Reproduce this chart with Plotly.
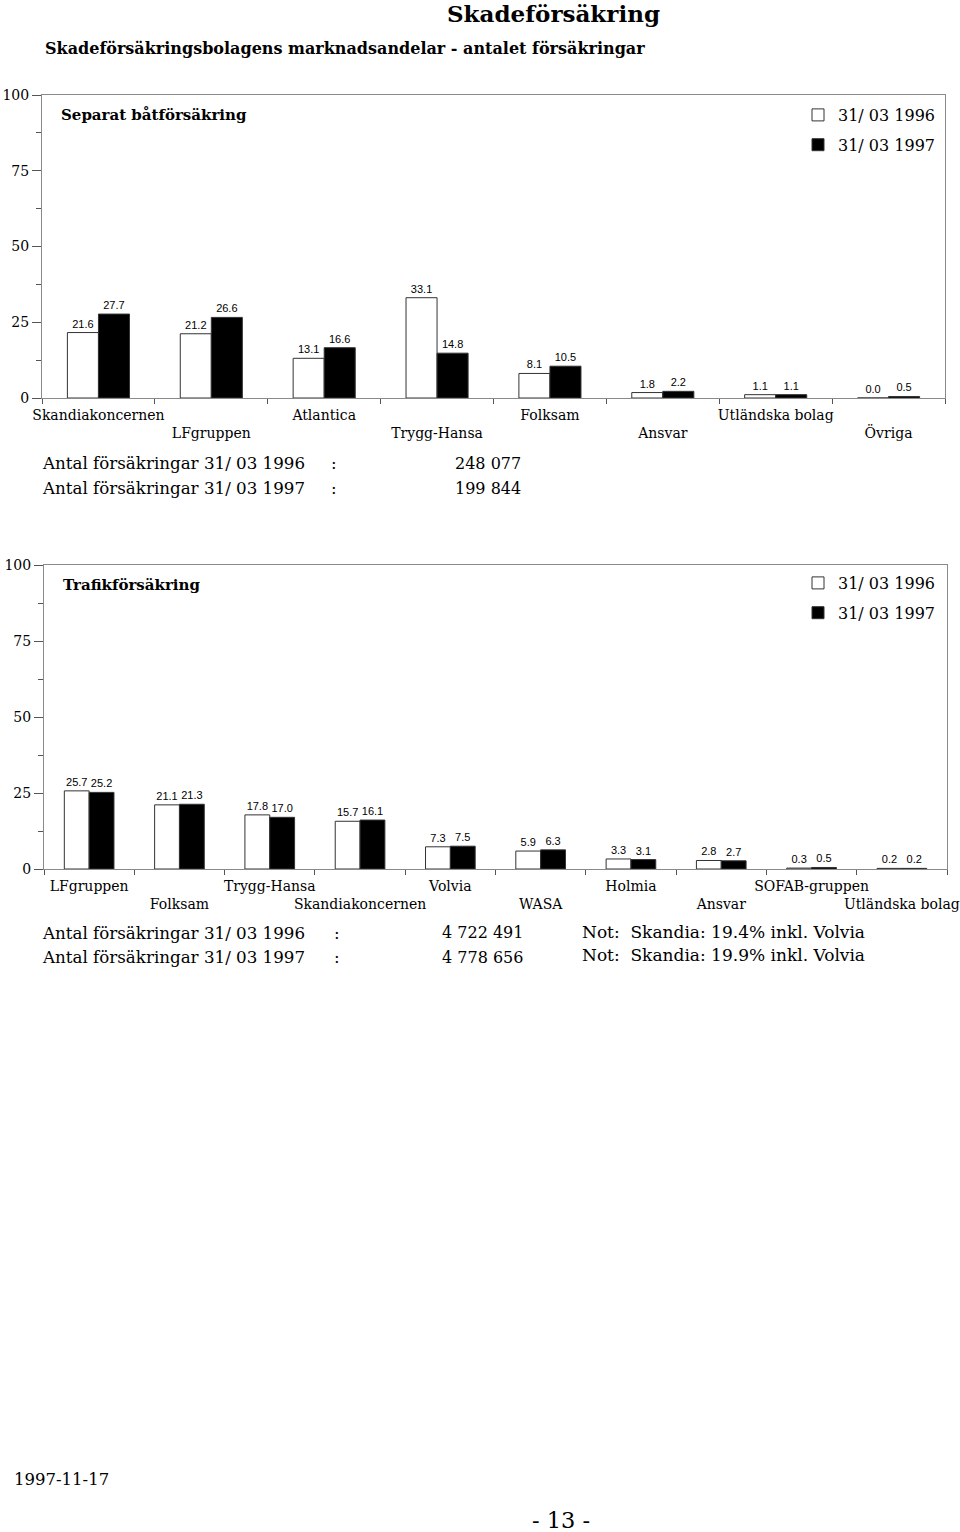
import plotly.graph_objects as go

# ---- data: top chart (Separat båtförsäkring) ----
boat_categories = ["Skandiakoncernen", "LFgruppen", "Atlantica", "Trygg-Hansa",
                   "Folksam", "Ansvar", "Utländska bolag", "Övriga"]
boat_1996 = [21.6, 21.2, 13.1, 33.1, 8.1, 1.8, 1.1, 0.0]
boat_1997 = [27.7, 26.6, 16.6, 14.8, 10.5, 2.2, 1.1, 0.5]

# ---- data: bottom chart (Trafikförsäkring) ----
traffic_categories = ["LFgruppen", "Folksam", "Trygg-Hansa", "Skandiakoncernen", "Volvia",
                      "WASA", "Holmia", "Ansvar", "SOFAB-gruppen", "Utländska bolag"]
traffic_1996 = [25.7, 21.1, 17.8, 15.7, 7.3, 5.9, 3.3, 2.8, 0.3, 0.2]
traffic_1997 = [25.2, 21.3, 17.0, 16.1, 7.5, 6.3, 3.1, 2.7, 0.5, 0.2]

series_names = ["31/ 03 1996", "31/ 03 1997"]
y_ticks = [0, 25, 50, 75, 100]

SERIF = "DejaVu Serif"
SANS = "Liberation Sans, Arial, sans-serif"

def alt_labels(cats):
    return [c if i % 2 == 0 else "<br>" + c for i, c in enumerate(cats)]

fig = go.Figure()

def add_pair(cats, v96, v97, xa, ya, legend):
    for vals, name, fill in [(v96, series_names[0], "white"), (v97, series_names[1], "black")]:
        fig.add_trace(go.Bar(
            x=cats, y=vals, name=name, xaxis=xa, yaxis=ya, legend=legend,
            marker=dict(color=fill, line=dict(color="#333333", width=1)),
            text=[f"{v:.1f}" for v in vals], textposition="outside",
            constraintext="none", cliponaxis=False,
            textfont=dict(family=SANS, size=11, color="black"),
            hoverinfo="x+y",
        ))

add_pair(boat_categories, boat_1996, boat_1997, "x", "y", "legend")
add_pair(traffic_categories, traffic_1996, traffic_1997, "x2", "y2", "legend2")

W = 960
H = 1532

def py(y):
    return 1 - y / H

def px_(x):
    return x / W

axis_common = dict(showline=True, linecolor="#8a8a8a", linewidth=1, mirror=True,
                   showgrid=False, zeroline=False, automargin=False)

xcommon = dict(tickmode="array", tickson="boundaries", ticks="outside", ticklen=5,
               tickcolor="#555", tickangle=0, ticklabelstandoff=4,
               tickfont=dict(family=SERIF, size=14), **axis_common)
ycommon = dict(range=[0, 100], tickvals=y_ticks, ticks="outside", ticklen=9,
               tickcolor="#555",
               minor=dict(dtick=12.5, ticks="outside", ticklen=5, tickcolor="#555"),
               tickfont=dict(family=SERIF, size=14), **axis_common)

fig.update_layout(
    width=W, height=H,
    margin=dict(l=0, r=0, t=0, b=0, autoexpand=False),
    paper_bgcolor="white", plot_bgcolor="white",
    barmode="group", bargap=0.45, bargroupgap=0,
    showlegend=True,
    font=dict(family=SERIF, color="black"),
    xaxis=dict(domain=[px_(42), px_(945)], anchor="y",
               tickvals=boat_categories, ticktext=alt_labels(boat_categories), **xcommon),
    yaxis=dict(domain=[py(398), py(95)], anchor="x", **ycommon),
    xaxis2=dict(domain=[px_(44), px_(947)], anchor="y2",
                tickvals=traffic_categories, ticktext=alt_labels(traffic_categories), **xcommon),
    yaxis2=dict(domain=[py(869), py(565)], anchor="x2", **ycommon),
    legend=dict(x=px_(798), y=py(98), xanchor="left", yanchor="top",
                bgcolor="rgba(0,0,0,0)", font=dict(family=SERIF, size=16),
                tracegroupgap=6, traceorder="grouped"),
    legend2=dict(x=px_(798), y=py(566), xanchor="left", yanchor="top",
                 bgcolor="rgba(0,0,0,0)", font=dict(family=SERIF, size=16),
                 tracegroupgap=6, traceorder="grouped"),
)

for i, tr in enumerate(fig.data):
    tr.legendgroup = f"g{i}"

def txt(x, y, s, size, bold=False, anchor="left"):
    fig.add_annotation(x=px_(x), y=py(y), xref="paper", yref="paper",
                       text=f"<b>{s}</b>" if bold else s, showarrow=False,
                       xanchor=anchor, yanchor="middle",
                       font=dict(family=SERIF, size=size, color="black"))

txt(553, 14, "Skadeförsäkring", 23, bold=True, anchor="center")
txt(43, 48, "Skadeförsäkringsbolagens marknadsandelar - antalet försäkringar", 16, bold=True)
txt(59, 115, "Separat båtförsäkring", 15, bold=True)
txt(61, 585, "Trafikförsäkring", 15, bold=True)

txt(40, 463, "Antal försäkringar 31/ 03 1996", 16.7)
txt(40, 488, "Antal försäkringar 31/ 03 1997", 16.7)
txt(329, 463, ":", 16.7)
txt(329, 488, ":", 16.7)
txt(453, 463, "248 077", 16)
txt(453, 488, "199 844", 16)

txt(40, 933, "Antal försäkringar 31/ 03 1996", 16.7)
txt(40, 957, "Antal försäkringar 31/ 03 1997", 16.7)
txt(332, 933, ":", 16.7)
txt(332, 957, ":", 16.7)
txt(440, 933, "4 722 491", 16)
txt(440, 957, "4 778 656", 16)
txt(580, 932, "Not:  Skandia: 19.4% inkl. Volvia", 17)
txt(580, 955, "Not:  Skandia: 19.9% inkl. Volvia", 17)

txt(12, 1479, "1997-11-17", 16.5)
txt(561, 1520, "- 13 -", 22.5, anchor="center")

fig.write_html("out.html", config={"displayModeBar": False},
               post_script="document.body.style.margin='0';")
